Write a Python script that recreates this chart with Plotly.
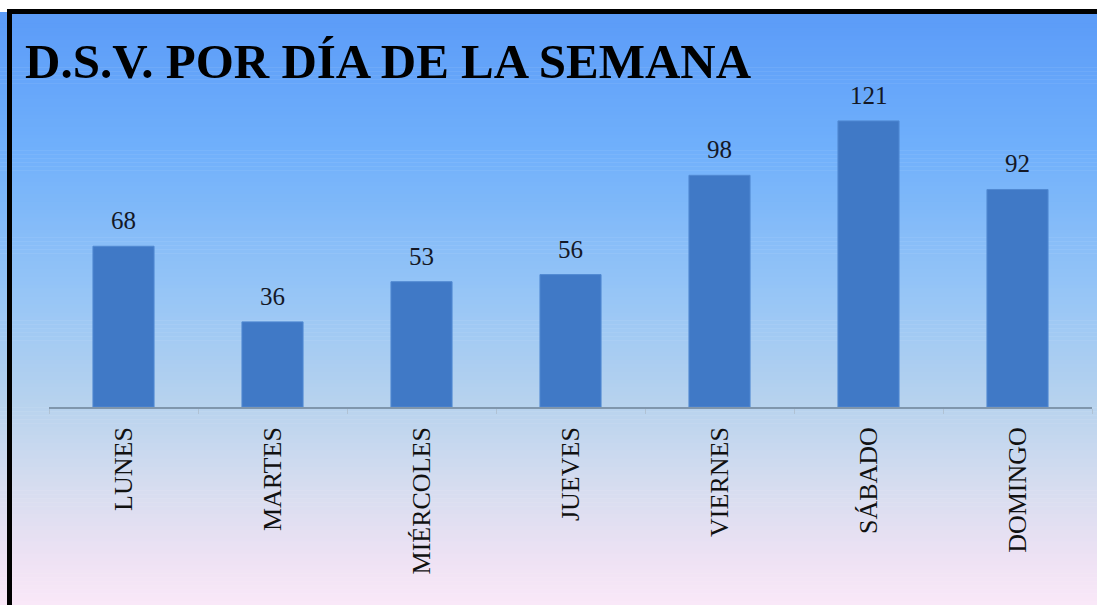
import numpy as np
import plotly.graph_objects as go

categories = ["LUNES", "MARTES", "MIÉRCOLES", "JUEVES", "VIERNES", "SÁBADO", "DOMINGO"]
values = [68, 36, 53, 56, 98, 121, 92]
title_text = "D.S.V. POR DÍA DE LA SEMANA"

W, H = 1097, 605
ML, MR, MT, MB = 49, 5, 76, 198
PW = W - ML - MR
PH = H - MT - MB

def px_x(x):
    return (x - ML) / PW

def px_y(y):
    return (H - MB - y) / PH

# background gradient stops (pixel y, colour)
stops_y = [12, 150, 300, 400, 480, 560, 605]
stops_c = [(0x5b, 0x9b, 0xf8), (0x70, 0xb0, 0xfb), (0x98, 0xc6, 0xf6),
           (0xb6, 0xd2, 0xee), (0xd4, 0xdc, 0xef), (0xee, 0xe2, 0xf4), (0xfa, 0xe8, 0xf8)]

shapes = []
n = 150
edges = np.linspace(12, H, n + 1)
for i in range(n):
    y0, y1 = edges[i], edges[i + 1]
    ym = (y0 + y1) / 2
    c = [int(round(np.interp(ym, stops_y, [s[k] for s in stops_c]))) for k in range(3)]
    shapes.append(dict(type="rect", xref="paper", yref="paper",
                       x0=px_x(0), x1=px_x(W), y0=px_y(y1 + 0.5), y1=px_y(y0),
                       fillcolor=f"rgb({c[0]},{c[1]},{c[2]})", line=dict(width=0),
                       layer="below"))
# black frame
shapes.append(dict(type="rect", xref="paper", yref="paper",
                   x0=px_x(9.5), x1=px_x(W + 20), y0=px_y(H + 20), y1=px_y(11.5),
                   line=dict(color="black", width=5), fillcolor="rgba(0,0,0,0)",
                   layer="above"))

fig = go.Figure()
fig.add_trace(go.Bar(
    x=categories, y=values, width=0.41,
    marker=dict(color="#4079c6", line=dict(color="#5089d2", width=1)),
    hoverinfo="skip",
))

annotations = [dict(x=c, y=v, xref="x", yref="y", text=str(v), showarrow=False,
                    yanchor="bottom", yshift=10,
                    font=dict(family="Liberation Serif", size=25, color="#141826"))
               for c, v in zip(categories, values)]
annotations.append(dict(x=px_x(23), y=px_y(62), xref="paper", yref="paper",
                        text=f"<b>{title_text}</b>", showarrow=False,
                        xanchor="left", yanchor="middle",
                        font=dict(family="Liberation Serif", size=49, color="black")))

fig.update_layout(
    width=W, height=H,
    margin=dict(l=ML, r=MR, t=MT, b=MB, pad=0),
    paper_bgcolor="white",
    plot_bgcolor="rgba(0,0,0,0)",
    showlegend=False,
    shapes=shapes,
    annotations=annotations,
    bargap=0.59,
    xaxis=dict(showline=True, linecolor="#8096ac", linewidth=1.5,
               ticks="outside", tickson="boundaries", ticklen=5, tickcolor="#b0c2d4",
               tickangle=-90, ticklabelstandoff=8,
               tickfont=dict(family="Liberation Serif", size=26, color="#111111"),
               showgrid=False, zeroline=False, fixedrange=True),
    yaxis=dict(range=[0, 140], visible=False, showgrid=False, zeroline=False,
               fixedrange=True),
)

fig.write_html("out.html", config={"displayModeBar": False},
               post_script="document.body.style.margin='0';document.body.style.overflow='hidden';")
